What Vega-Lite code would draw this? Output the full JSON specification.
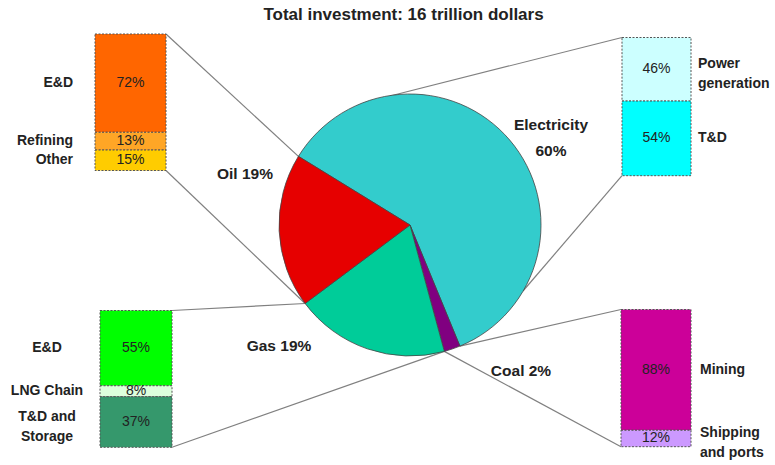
{
  "$schema": "https://vega.github.io/schema/vega-lite/v6.json",
  "width": 775,
  "height": 465,
  "autosize": {"type": "none"},
  "padding": 0,
  "background": "white",
  "config": {"view": {"stroke": null}, "font": "Liberation Sans"},
  "title": {"text": "Total investment: 16 trillion dollars", "frame": "group", "anchor": "middle", "dx": 16, "offset": -24, "fontSize": 17, "fontWeight": "bold", "font": "Liberation Sans", "color": "#222222"},
  "datasets": {
    "pie": [
      {"sector": "Electricity", "pct": 60},
      {"sector": "Coal", "pct": 2},
      {"sector": "Gas", "pct": 19},
      {"sector": "Oil", "pct": 19}
    ],
    "parts": [
      {"sector": "Oil", "part": "E&D", "pct": 72},
      {"sector": "Oil", "part": "Refining", "pct": 13},
      {"sector": "Oil", "part": "Other", "pct": 15},
      {"sector": "Electricity", "part": "Power generation", "pct": 46},
      {"sector": "Electricity", "part": "T&D", "pct": 54},
      {"sector": "Gas", "part": "E&D", "pct": 55},
      {"sector": "Gas", "part": "LNG Chain", "pct": 8},
      {"sector": "Gas", "part": "T&D and Storage", "pct": 37},
      {"sector": "Coal", "part": "Mining", "pct": 88},
      {"sector": "Coal", "part": "Shipping and ports", "pct": 12}
    ]
  },
  "layer": [
    {
      "data": {"name": "parts"},
      "transform": [
        {"stack": "pct", "groupby": ["sector"], "as": ["c0", "c1"]},
        {"calculate": "datum.sector==='Oil'?95:datum.sector==='Gas'?100:datum.sector==='Electricity'?622:621", "as": "bl"},
        {"calculate": "datum.sector==='Oil'?166:datum.sector==='Gas'?172:691", "as": "br"},
        {"calculate": "datum.sector==='Oil'?34:datum.sector==='Gas'?310.5:datum.sector==='Electricity'?37.5:309.5", "as": "bt"},
        {"calculate": "datum.sector==='Oil'?136.5:datum.sector==='Gas'?136.8:datum.sector==='Electricity'?138.2:137.2", "as": "bh"}
      ],
      "layer": [
        {
          "transform": [
            {"filter": "datum.c0 === 0 || datum.c1 === 100"},
            {"calculate": "datum.sector==='Oil'||datum.sector==='Gas' ? datum.br : datum.bl", "as": "cx"},
            {"calculate": "datum.c0===0 ? datum.bt : datum.bt + datum.bh", "as": "cy"},
            {"calculate": "datum.sector==='Oil' ? (datum.c0===0?298.4:305.1) : datum.sector==='Gas' ? (datum.c0===0?305.1:444.3) : datum.sector==='Electricity' ? (datum.c0===0?390:523) : (datum.c0===0?459.9:444.3)", "as": "px"},
            {"calculate": "datum.sector==='Oil' ? (datum.c0===0?156.4:303.5) : datum.sector==='Gas' ? (datum.c0===0?303.5:351.4) : datum.sector==='Electricity' ? (datum.c0===0?96:291) : (datum.c0===0?346.1:351.4)", "as": "py"}
          ],
          "mark": {"type": "rule", "stroke": "#808080", "strokeWidth": 1.2},
          "encoding": {
            "x": {"field": "cx", "type": "quantitative", "scale": {"domain": [0, 775], "nice": false, "zero": false}, "axis": null},
            "y": {"field": "cy", "type": "quantitative", "scale": {"domain": [0, 465], "reverse": true, "nice": false, "zero": false}, "axis": null},
            "x2": {"field": "px"},
            "y2": {"field": "py"}
          }
        }
      ]
    },
    {
      "data": {"name": "pie"},
      "transform": [{"window": [{"op": "row_number", "as": "i"}]}],
      "mark": {"type": "arc", "radius": 131, "stroke": "#444444", "strokeWidth": 0.8},
      "encoding": {
        "theta": {"field": "pct", "type": "quantitative", "stack": true, "scale": {"domain": [0, 100], "range": [5.2639, 11.5471]}},
        "order": {"field": "i", "type": "quantitative"},
        "color": {"field": "sector", "type": "nominal", "legend": null, "scale": {"domain": ["Electricity", "Coal", "Gas", "Oil", "Oil: E&D", "Oil: Refining", "Oil: Other", "Electricity: Power generation", "Electricity: T&D", "Gas: E&D", "Gas: LNG Chain", "Gas: T&D and Storage", "Coal: Mining", "Coal: Shipping and ports"], "range": ["#33CCCC", "#800080", "#00CC99", "#E60000", "#FF6600", "#FFA626", "#FFCC00", "#CCFFFF", "#00FFFF", "#00FF00", "#DDFFDD", "#35986C", "#CC0099", "#CC99FF"]}},
        "x": {"datum": 410, "type": "quantitative", "scale": {"domain": [0, 775], "nice": false, "zero": false}, "axis": null},
        "y": {"datum": 225, "type": "quantitative", "scale": {"domain": [0, 465], "reverse": true, "nice": false, "zero": false}, "axis": null}
      }
    },
    {
      "data": {"name": "parts"},
      "transform": [
        {"stack": "pct", "groupby": ["sector"], "as": ["c0", "c1"]},
        {"calculate": "datum.sector==='Oil'?95:datum.sector==='Gas'?100:datum.sector==='Electricity'?622:621", "as": "bl"},
        {"calculate": "datum.sector==='Oil'?166:datum.sector==='Gas'?172:691", "as": "br"},
        {"calculate": "datum.sector==='Oil'?34:datum.sector==='Gas'?310.5:datum.sector==='Electricity'?37.5:309.5", "as": "bt"},
        {"calculate": "datum.sector==='Oil'?136.5:datum.sector==='Gas'?136.8:datum.sector==='Electricity'?138.2:137.2", "as": "bh"},
        {"calculate": "datum.bt + datum.c0*datum.bh/100", "as": "y0"},
        {"calculate": "datum.bt + datum.c1*datum.bh/100", "as": "y1"},
        {"calculate": "(datum.bl+datum.br)/2", "as": "xm"},
        {"calculate": "(datum.y0+datum.y1)/2", "as": "ym"},
        {"calculate": "datum.sector + ': ' + datum.part", "as": "key"},
        {"calculate": "replace(replace(replace(datum.part,'Power ','Power\\n'),' Storage','\\nStorage'),'Shipping ','Shipping\\n')", "as": "label"},
        {"calculate": "datum.ym - (indexof(datum.label, '\\n') >= 0 ? 5 : 0)", "as": "lyb"},
        {"calculate": "datum.pct + '%'", "as": "pctText"},
        {"calculate": "datum.sector==='Oil'?73:datum.sector==='Gas'?47:datum.sector==='Electricity'?698:700", "as": "lx"}
      ],
      "layer": [
        {
          "mark": {"type": "rect", "stroke": "#555555", "strokeWidth": 1, "strokeDash": [2, 1.5]},
          "encoding": {
            "x": {"field": "bl", "type": "quantitative", "scale": {"domain": [0, 775], "nice": false, "zero": false}, "axis": null},
            "x2": {"field": "br"},
            "y": {"field": "y0", "type": "quantitative", "scale": {"domain": [0, 465], "reverse": true, "nice": false, "zero": false}, "axis": null},
            "y2": {"field": "y1"},
            "color": {"field": "key", "type": "nominal", "legend": null}
          }
        },
        {
          "mark": {"type": "text", "fontSize": 14, "fill": "#222222", "align": "center", "baseline": "middle"},
          "encoding": {
            "x": {"field": "xm", "type": "quantitative", "scale": {"domain": [0, 775], "nice": false, "zero": false}, "axis": null},
            "y": {"field": "ym", "type": "quantitative", "scale": {"domain": [0, 465], "reverse": true, "nice": false, "zero": false}, "axis": null},
            "text": {"field": "pctText"}
          }
        },
        {
          "transform": [{"filter": "datum.sector === 'Oil'"}],
          "mark": {"type": "text", "fontSize": 14, "fontWeight": "bold", "fill": "#222222", "align": "right", "baseline": "middle", "lineBreak": "\n", "lineHeight": 20},
          "encoding": {
            "x": {"field": "lx", "type": "quantitative", "scale": {"domain": [0, 775], "nice": false, "zero": false}, "axis": null},
            "y": {"field": "lyb", "type": "quantitative", "scale": {"domain": [0, 465], "reverse": true, "nice": false, "zero": false}, "axis": null},
            "text": {"field": "label"}
          }
        },
        {
          "transform": [{"filter": "datum.sector === 'Gas'"}],
          "mark": {"type": "text", "fontSize": 14, "fontWeight": "bold", "fill": "#222222", "align": "center", "baseline": "middle", "lineBreak": "\n", "lineHeight": 20},
          "encoding": {
            "x": {"field": "lx", "type": "quantitative", "scale": {"domain": [0, 775], "nice": false, "zero": false}, "axis": null},
            "y": {"field": "lyb", "type": "quantitative", "scale": {"domain": [0, 465], "reverse": true, "nice": false, "zero": false}, "axis": null},
            "text": {"field": "label"}
          }
        },
        {
          "transform": [{"filter": "datum.sector === 'Electricity' || datum.sector === 'Coal'"}],
          "mark": {"type": "text", "fontSize": 14, "fontWeight": "bold", "fill": "#222222", "align": "left", "baseline": "middle", "lineBreak": "\n", "lineHeight": 20},
          "encoding": {
            "x": {"field": "lx", "type": "quantitative", "scale": {"domain": [0, 775], "nice": false, "zero": false}, "axis": null},
            "y": {"field": "lyb", "type": "quantitative", "scale": {"domain": [0, 465], "reverse": true, "nice": false, "zero": false}, "axis": null},
            "text": {"field": "label"}
          }
        }
      ]
    },
    {
      "data": {"name": "pie"},
      "transform": [
        {"calculate": "datum.sector==='Electricity' ? datum.sector + '\\n' + datum.pct + '%' : datum.sector + ' ' + datum.pct + '%'", "as": "label"},
        {"calculate": "datum.sector==='Electricity'?551:datum.sector==='Oil'?245:datum.sector==='Gas'?279:521", "as": "lx"},
        {"calculate": "datum.sector==='Electricity'?125:datum.sector==='Oil'?173.5:datum.sector==='Gas'?345.5:370.5", "as": "ly"}
      ],
      "mark": {"type": "text", "fontSize": 15.5, "fontWeight": "bold", "fill": "#222222", "align": "center", "baseline": "middle", "lineBreak": "\n", "lineHeight": 26},
      "encoding": {
        "x": {"field": "lx", "type": "quantitative", "scale": {"domain": [0, 775], "nice": false, "zero": false}, "axis": null},
        "y": {"field": "ly", "type": "quantitative", "scale": {"domain": [0, 465], "reverse": true, "nice": false, "zero": false}, "axis": null},
        "text": {"field": "label"}
      }
    }
  ]
}
